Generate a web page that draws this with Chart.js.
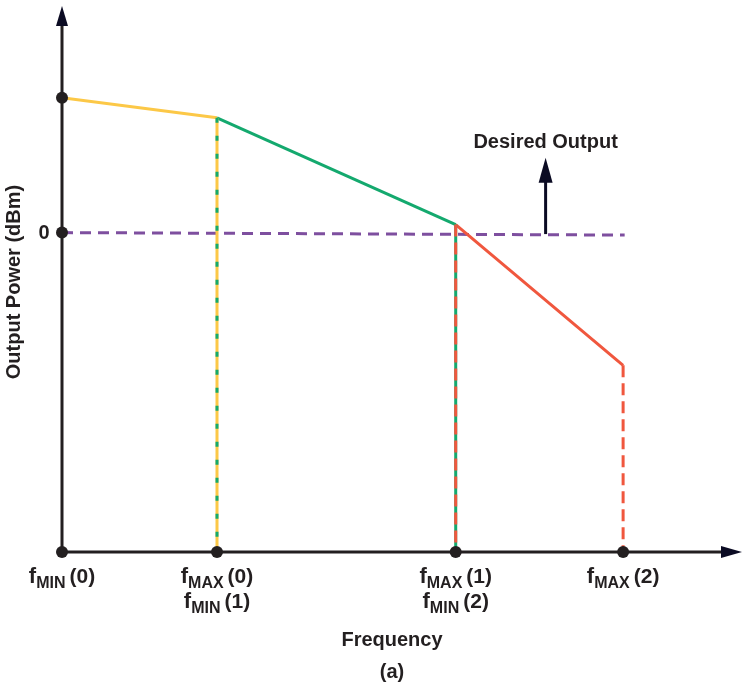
<!DOCTYPE html>
<html>
<head>
<meta charset="utf-8">
<script src="https://cdn.jsdelivr.net/npm/chart.js@4/dist/chart.umd.min.js"></script>
<style>
  html, body { margin: 0; padding: 0; background: #fff; }
  #wrap { width: 752px; height: 683px; }
</style>
</head>
<body>
<div id="wrap"><canvas id="powerChart" width="752" height="683"></canvas></div>
<script>
// frequency band edges (x units), tick labels drawn under each edge
const freqTicks = [0, 1, 2.54, 3.62];
const freqTickLabels = [
  [["f", "MIN", "(0)"]],
  [["f", "MAX", "(0)"], ["f", "MIN", "(1)"]],
  [["f", "MAX", "(1)"], ["f", "MIN", "(2)"]],
  [["f", "MAX", "(2)"]],
];

// output power of each band at its start and end (dBm)
const bandStartPower = [13.5, 11.5, 0.8];
const bandEndPower = [11.5, 0.8, -13.3];

// desired output level (dashed purple)
const desiredFreq = [0, 3.63];
const desiredPower = [0, -0.25];
const desiredArrowFreq = 3.12;
const desiredArrowTop = 7.5;

// y axis ticks
const powerTicks = [0];
const powerTickLabels = ["0"];

// axis extents
const powerFloor = -32;
const powerTop = 22.7;
const freqEnd = 4.387;

const INK = "#231f20";
const FONT = "'Liberation Sans', Arial, sans-serif";
const bandColors = ["#fcc847", "#14a96e", "#f0573e"];

const datasets = [];

// black dots on the axes
datasets.push({
  data: [
    { x: 0, y: bandStartPower[0] },
    { x: 0, y: 0 },
    ...freqTicks.map(f => ({ x: f, y: powerFloor })),
  ],
  showLine: false,
  pointRadius: 6,
  pointBackgroundColor: INK,
  pointBorderWidth: 0,
  clip: false,
  order: 0,
});

// band segments
bandStartPower.forEach((p, i) => {
  datasets.push({
    data: [{ x: freqTicks[i], y: p }, { x: freqTicks[i + 1], y: bandEndPower[i] }],
    showLine: true,
    borderColor: bandColors[i],
    borderWidth: 3,
    pointRadius: 0,
    order: 3,
  });
});

// vertical edges: solid colour of the left band, dashed colour of the right band on top
bandEndPower.forEach((p, i) => {
  const f = freqTicks[i + 1];
  const pts = [{ x: f, y: p }, { x: f, y: powerFloor }];
  const last = i === bandEndPower.length - 1;
  if (!last) {
    datasets.push({
      data: pts, showLine: true, borderColor: bandColors[i], borderWidth: 3,
      pointRadius: 0, order: 2,
    });
    datasets.push({
      data: pts, showLine: true, borderColor: bandColors[i + 1], borderWidth: 3,
      borderDash: i === 0 ? [5, 13] : [12, 6], pointRadius: 0, order: 1,
    });
  } else {
    datasets.push({
      data: pts, showLine: true, borderColor: bandColors[i], borderWidth: 3,
      borderDash: [12, 6], pointRadius: 0, order: 1,
    });
  }
});

// desired output
datasets.push({
  data: desiredFreq.map((f, i) => ({ x: f, y: desiredPower[i] })),
  showLine: true,
  borderColor: "#7e4f9f",
  borderWidth: 3,
  borderDash: [11, 7],
  pointRadius: 0,
  order: 3,
});

function arrowHead(ctx, tipX, tipY, dirX, dirY, len, half) {
  const bx = tipX - dirX * len, by = tipY - dirY * len;
  const nx = -dirY, ny = dirX;
  ctx.beginPath();
  ctx.moveTo(tipX, tipY);
  ctx.lineTo(bx + nx * half, by + ny * half);
  ctx.lineTo(bx - nx * half, by - ny * half);
  ctx.closePath();
  ctx.fill();
}

function drawFreqLabel(ctx, cx, baseline, parts) {
  const [f, sub, idx] = parts;
  ctx.font = "bold 22px " + FONT;
  const wf = ctx.measureText(f).width;
  ctx.font = "bold 21px " + FONT;
  const wi = ctx.measureText(idx).width;
  ctx.font = "bold 16px " + FONT;
  const ws = ctx.measureText(sub).width;
  const gap = 4;
  let x = cx - (wf + ws + gap + wi) / 2;
  ctx.textAlign = "left";
  ctx.textBaseline = "alphabetic";
  ctx.font = "bold 22px " + FONT;
  ctx.fillText(f, x, baseline);
  x += wf;
  ctx.font = "bold 16px " + FONT;
  ctx.fillText(sub, x, baseline + 5);
  x += ws + gap;
  ctx.font = "bold 21px " + FONT;
  ctx.fillText(idx, x, baseline);
}

const diagramPlugin = {
  id: "diagram",
  beforeDatasetsDraw(chart) {
    const { ctx, scales: { x, y } } = chart;
    const x0 = x.getPixelForValue(0);
    const y0 = y.getPixelForValue(powerFloor);
    const xEnd = x.getPixelForValue(freqEnd);
    const yTop = y.getPixelForValue(powerTop);
    ctx.save();
    ctx.strokeStyle = INK;
    ctx.fillStyle = INK;
    ctx.lineWidth = 3;
    ctx.beginPath();
    ctx.moveTo(x0, y0);
    ctx.lineTo(xEnd - 10, y0);
    ctx.moveTo(x0, y0);
    ctx.lineTo(x0, yTop + 10);
    ctx.stroke();
    ctx.fillStyle = "#0b0b23";
    arrowHead(ctx, xEnd, y0, 1, 0, 21, 6);
    arrowHead(ctx, x0, yTop, 0, -1, 20, 6);

    // desired output arrow
    const ax = x.getPixelForValue(desiredArrowFreq);
    const aBase = y.getPixelForValue(-0.15);
    const aTip = y.getPixelForValue(desiredArrowTop);
    ctx.strokeStyle = "#0b0b23";
    ctx.beginPath();
    ctx.moveTo(ax, aBase);
    ctx.lineTo(ax, aTip + 15);
    ctx.stroke();
    arrowHead(ctx, ax, aTip, 0, -1, 25, 7);
    ctx.restore();
  },
  afterDraw(chart) {
    const { ctx, scales: { x, y } } = chart;
    ctx.save();
    ctx.fillStyle = INK;
    const y0 = y.getPixelForValue(powerFloor);

    freqTicks.forEach((f, i) => {
      const px = x.getPixelForValue(f);
      freqTickLabels[i].forEach((parts, line) => {
        drawFreqLabel(ctx, px, y0 + 31 + line * 25, parts);
      });
    });

    ctx.font = "bold 20px " + FONT;
    ctx.textAlign = "center";
    ctx.textBaseline = "middle";
    powerTicks.forEach((p, i) => {
      ctx.fillText(powerTickLabels[i], x.getPixelForValue(0) - 18, y.getPixelForValue(p) + 1);
    });

    ctx.textBaseline = "alphabetic";
    ctx.fillText("Frequency", 392, 646);
    ctx.fillText("(a)", 392, 678);
    ctx.fillText("Desired Output", x.getPixelForValue(desiredArrowFreq), 148);

    ctx.translate(20, 282);
    ctx.rotate(-Math.PI / 2);
    ctx.fillText("Output Power (dBm)", 0, 0);
    ctx.restore();
  },
};

new Chart(document.getElementById("powerChart").getContext("2d"), {
  type: "scatter",
  data: { datasets },
  options: {
    responsive: false,
    animation: false,
    layout: { padding: { left: 62, right: 10, top: 5, bottom: 131 } },
    plugins: { legend: { display: false }, tooltip: { enabled: false } },
    scales: {
      x: { type: "linear", display: false, min: 0, max: freqEnd },
      y: { type: "linear", display: false, min: powerFloor, max: powerTop },
    },
  },
  plugins: [diagramPlugin],
});
</script>
</body>
</html>
